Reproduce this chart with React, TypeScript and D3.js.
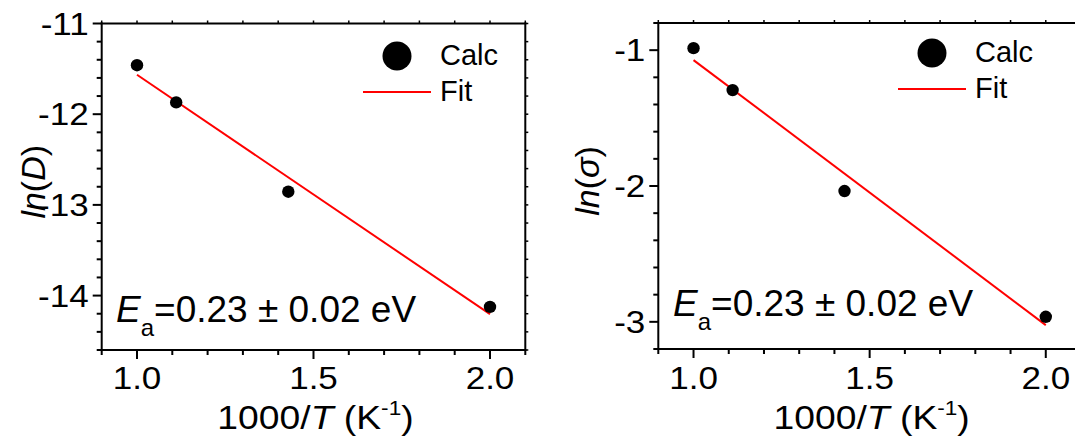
import React from "react";
import * as d3 from "d3";

// 1000/T for T = 1000, 900, 700, 500 K
const invT = [1.0, 1.111, 1.4286, 2.0];
const lnD = [-11.46, -11.87, -12.855, -14.125];
const lnSigma = [-0.985, -1.294, -2.037, -2.963];

// Arrhenius fit end points
const fitInvT = [1.0, 2.0];
const fitLnD = [-11.565, -14.205];
const fitLnSigma = [-1.073, -3.024];

const xTickValues = [1.0, 1.5, 2.0];
const lnDTickValues = [-11, -12, -13, -14];
const lnSigmaTickValues = [-1, -2, -3];

const FONT = "'Liberation Sans', Arial, Helvetica, sans-serif";
const RED = "#ff0000";
// axis lettering is set slightly wide
const WIDE = 1.13;

type PanelProps = {
  x0: number;
  x1: number;
  yTop: number;
  yBottom: number;
  yDomain: [number, number];
  yValues: number[];
  fitValues: number[];
  yTicks: number[];
  yTitle: React.ReactNode;
  yTitleX: number;
  legendX: number;
  legendY: number;
  noteX: number;
  noteY: number;
};

function range(a: number, b: number, step: number) {
  const out: number[] = [];
  const n = Math.round((b - a) / step);
  for (let i = 0; i <= n; i++) out.push(+(a + i * step).toFixed(4));
  return out;
}

function Panel(p: PanelProps) {
  const x = d3.scaleLinear().domain([0.9, 2.1]).range([p.x0, p.x1]);
  const y = d3.scaleLinear().domain(p.yDomain).range([p.yBottom, p.yTop]);
  const xMinor = range(0.9, 2.1, 0.1);
  const yMinor = range(p.yDomain[0], p.yDomain[1], 0.2);
  const isMajorX = (v: number) => xTickValues.some((t) => Math.abs(t - v) < 1e-6);
  const isMajorY = (v: number) => p.yTicks.some((t) => Math.abs(t - v) < 1e-6);
  const line = d3
    .line<number>()
    .x((_, i) => x(fitInvT[i]))
    .y((d) => y(d));
  const xl = x.range()[0];
  const xr = x.range()[1];
  const yb = y.range()[0];
  const yt = y.range()[1];
  const xMid = (xl + xr) / 2;
  const yMid = (yb + yt) / 2;
  return (
    <g>
      {/* frame */}
      <line x1={xl} x2={xl} y1={yt - 1} y2={yb + 1} stroke="#000" strokeWidth={2} />
      <line x1={xl - 1} x2={xr + 1} y1={yb} y2={yb} stroke="#000" strokeWidth={2} />
      <line x1={xl - 1} x2={xr + 1} y1={yt} y2={yt} stroke="#000" strokeWidth={2} />
      <line x1={xr} x2={xr} y1={yt - 1} y2={yb + 1} stroke="#000" strokeWidth={2} />
      {/* x ticks */}
      {xMinor.map((v) => (
        <g key={"xt" + v}>
          <line x1={x(v)} x2={x(v)} y1={yb} y2={yb + (isMajorX(v) ? 9 : 5)} stroke="#000" strokeWidth={2} />
          <line x1={x(v)} x2={x(v)} y1={yt} y2={yt - 3} stroke="#000" strokeWidth={1.5} />
        </g>
      ))}
      {/* y ticks */}
      {yMinor.map((v) => (
        <g key={"yt" + v}>
          <line x1={xl} x2={xl - (isMajorY(v) ? 9 : 5)} y1={y(v)} y2={y(v)} stroke="#000" strokeWidth={2} />
          <line x1={xr} x2={xr + 3} y1={y(v)} y2={y(v)} stroke="#000" strokeWidth={1.5} />
        </g>
      ))}
      {xTickValues.map((v) => (
        <text
          key={"xl" + v}
          transform={`translate(${x(v)},389) scale(${WIDE},1)`}
          textAnchor="middle"
          fontSize={31}
          fontFamily={FONT}
        >
          {v.toFixed(1)}
        </text>
      ))}
      {p.yTicks.map((v) => (
        <text
          key={"yl" + v}
          transform={`translate(${xl - 13},${y(v) + 11}) scale(${WIDE},1)`}
          textAnchor="end"
          fontSize={31}
          fontFamily={FONT}
        >
          {String(v)}
        </text>
      ))}
      {/* x title */}
      <text
        transform={`translate(${xMid + 2},429) scale(${WIDE},1)`}
        textAnchor="middle"
        fontSize={33}
        fontFamily={FONT}
      >
        1000/<tspan fontStyle="italic">T</tspan> (K<tspan fontSize={20} dy={-14}>-1</tspan>
        <tspan dy={14}>)</tspan>
      </text>
      {/* y title */}
      <text
        transform={`translate(${p.yTitleX},${yMid - 5}) rotate(-90)`}
        textAnchor="middle"
        fontSize={34}
        fontFamily={FONT}
      >
        {p.yTitle}
      </text>
      {/* fit */}
      <path d={line(p.fitValues) || ""} fill="none" stroke={RED} strokeWidth={2} />
      {/* calculated points */}
      {p.yValues.map((v, i) => (
        <circle key={"pt" + i} cx={x(invT[i])} cy={y(v)} r={6.2} fill="#000" />
      ))}
      {/* legend */}
      <circle cx={p.legendX} cy={p.legendY} r={14.5} fill="#000" />
      <text x={p.legendX + 43} y={p.legendY + 9} fontSize={29} fontFamily={FONT}>
        Calc
      </text>
      <line x1={p.legendX - 34} x2={p.legendX + 34} y1={p.legendY + 36} y2={p.legendY + 36} stroke={RED} strokeWidth={2} />
      <text x={p.legendX + 43} y={p.legendY + 45} fontSize={29} fontFamily={FONT}>
        Fit
      </text>
      {/* activation energy */}
      <text x={p.noteX} y={p.noteY} fontSize={37} fontFamily={FONT}>
        <tspan fontStyle="italic">E</tspan>
        <tspan fontSize={24} dy={14}>a</tspan>
        <tspan dy={-14}>=0.23 ± 0.02 eV</tspan>
      </text>
    </g>
  );
}

export default function App() {
  return (
    <svg
      width={1075}
      height={439}
      style={{ position: "absolute", left: 0, top: 0, display: "block", background: "#fff" }}
    >
      <rect width={1075} height={439} fill="#fff" />
      <Panel
        x0={101.7}
        x1={525.3}
        yTop={23.5}
        yBottom={350}
        yDomain={[-14.6, -11]}
        yValues={lnD}
        fitValues={fitLnD}
        yTicks={lnDTickValues}
        yTitle={
          <>
            <tspan fontStyle="italic">ln</tspan>(<tspan fontStyle="italic">D</tspan>)
          </>
        }
        yTitleX={45}
        legendX={397}
        legendY={56}
        noteX={116}
        noteY={322}
      />
      <Panel
        x0={658.3}
        x1={1081}
        yTop={23}
        yBottom={349}
        yDomain={[-3.2, -0.8]}
        yValues={lnSigma}
        fitValues={fitLnSigma}
        yTicks={lnSigmaTickValues}
        yTitle={
          <>
            <tspan fontStyle="italic">ln</tspan>(<tspan fontStyle="italic">σ</tspan>)
          </>
        }
        yTitleX={599}
        legendX={932}
        legendY={53}
        noteX={673}
        noteY={316}
      />
    </svg>
  );
}
